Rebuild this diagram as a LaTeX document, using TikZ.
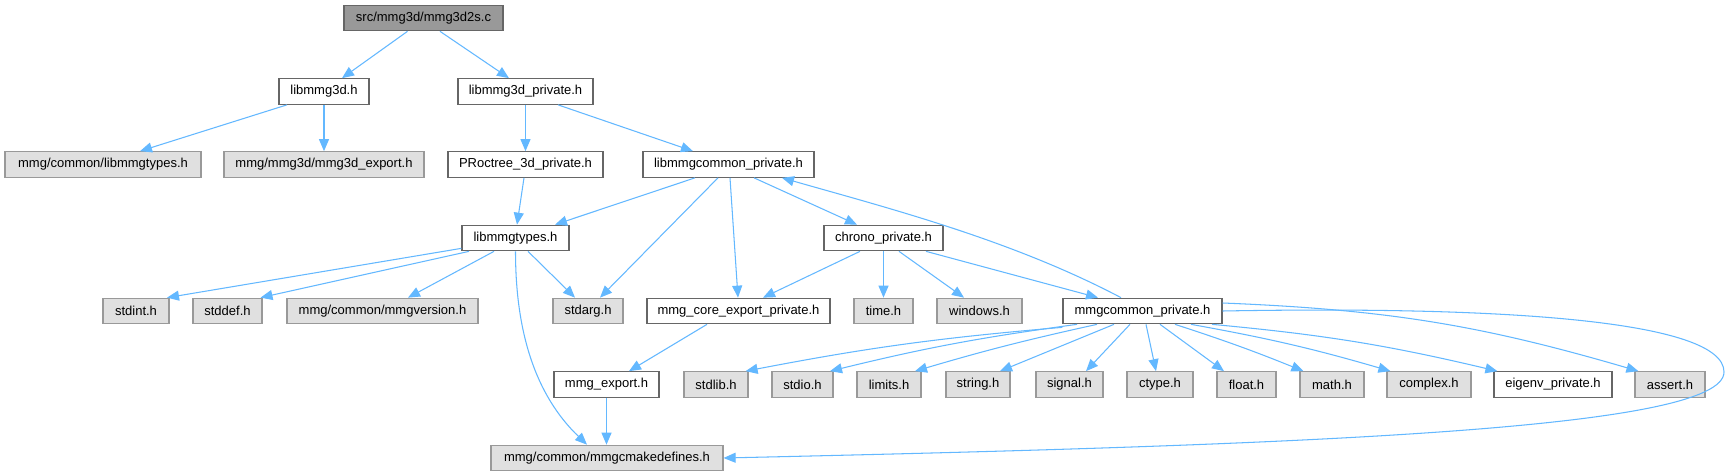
\documentclass[tikz,border=0pt]{standalone}
\usepackage{fontspec}
\setmainfont{Liberation Sans}
\usetikzlibrary{arrows.meta}
\definecolor{edgeblue}{HTML}{63B8FF}
\definecolor{rootfill}{HTML}{999999}
\definecolor{darkborder}{HTML}{666666}
\definecolor{extfill}{HTML}{E0E0E0}
\definecolor{extborder}{HTML}{999999}
\begin{document}
\begin{tikzpicture}[x=1pt,y=-1pt,
  base/.style={line width=1.2pt, minimum height=25.5pt, inner sep=0pt,
    font=\fontsize{13}{15}\selectfont, text=black},
  rootbox/.style={base, draw=darkborder, fill=rootfill, minimum width=#1},
  filebox/.style={base, draw=darkborder, fill=white, minimum width=#1},
  extbox/.style={base, draw=extborder, fill=extfill, minimum width=#1},
  edge/.style={draw=edgeblue, line width=1.05pt, -{Triangle[length=12pt,width=10pt]}}
]
\path[fill=white,use as bounding box] (0,0) rectangle (1731,476);

% rank 0
\node[rootbox=159pt] (root) at (423.5,18) {src/mmg3d/mmg3d2s.c};
% rank 1
\node[filebox=90pt]  (libmmg3d) at (324,91.5) {libmmg3d.h};
\node[filebox=135pt] (private) at (525.5,91.5) {libmmg3d\_private.h};
% rank 2
\node[extbox=196pt]  (commontypes) at (103,164.5) {mmg/common/libmmgtypes.h};
\node[extbox=200pt]  (mmg3dexport) at (324,164.5) {mmg/mmg3d/mmg3d\_export.h};
\node[filebox=155pt] (proctree) at (525.5,164.5) {PRoctree\_3d\_private.h};
\node[filebox=171pt] (libmmgcommon) at (728.5,164.5) {libmmgcommon\_private.h};
% rank 3
\node[filebox=107pt] (libmmgtypes) at (515.5,238) {libmmgtypes.h};
\node[filebox=119pt] (chrono) at (883.5,238) {chrono\_private.h};
% rank 4
\node[extbox=66pt]   (stdint) at (136,311) {stdint.h};
\node[extbox=69pt]   (stddef) at (227.5,311) {stddef.h};
\node[extbox=191pt]  (mmgversion) at (382.5,311) {mmg/common/mmgversion.h};
\node[extbox=70pt]   (stdarg) at (588,311) {stdarg.h};
\node[filebox=183pt] (coreexport) at (738.5,311) {mmg\_core\_export\_private.h};
\node[extbox=59pt]   (time) at (883.5,311) {time.h};
\node[extbox=85pt]   (windows) at (979.5,311) {windows.h};
\node[filebox=159pt] (mmgcommon) at (1142.5,311) {mmgcommon\_private.h};
% rank 5
\node[filebox=105pt] (mmgexport) at (606.5,384.5) {mmg\_export.h};
\node[extbox=64pt]   (stdlib) at (716,384.5) {stdlib.h};
\node[extbox=61pt]   (stdio) at (802.5,384.5) {stdio.h};
\node[extbox=64pt]   (limits) at (889,384.5) {limits.h};
\node[extbox=64pt]   (string) at (978,384.5) {string.h};
\node[extbox=67pt]   (signal) at (1069.5,384.5) {signal.h};
\node[extbox=66pt]   (ctype) at (1160,384.5) {ctype.h};
\node[extbox=59pt]   (float) at (1246.5,384.5) {float.h};
\node[extbox=64pt]   (math) at (1332,384.5) {math.h};
\node[extbox=84pt]   (complex) at (1429,384.5) {complex.h};
\node[filebox=118pt] (eigenv) at (1553,384.5) {eigenv\_private.h};
\node[extbox=70pt]   (assert) at (1670,384.5) {assert.h};
% rank 6
\node[extbox=232pt]  (cmake) at (607,458) {mmg/common/mmgcmakedefines.h};

\coordinate (loopR) at (1724,372);

% edges
\draw[edge] ([xshift=-16pt]root.south) -- ([xshift=18pt]libmmg3d.north);
\draw[edge] ([xshift=16.5pt]root.south) -- ([xshift=-16.5pt]private.north);
\draw[edge] ([xshift=-37pt]libmmg3d.south) -- ([xshift=37pt]commontypes.north);
\draw[edge] (libmmg3d.south) -- (mmg3dexport.north);
\draw[edge] (private.south) -- (proctree.north);
\draw[edge] ([xshift=32.5pt]private.south) -- ([xshift=-35.5pt]libmmgcommon.north);
\draw[edge] ([xshift=-1.5pt]proctree.south) -- ([xshift=1.5pt]libmmgtypes.north);
\draw[edge] ([xshift=-33.5pt]libmmgcommon.south) -- ([xshift=39.5pt]libmmgtypes.north);
\draw[edge] ([xshift=-10.5pt]libmmgcommon.south) -- ([xshift=12pt]stdarg.north);
\draw[edge] ([xshift=1.5pt]libmmgcommon.south) -- ([xshift=-0.5pt]coreexport.north);
\draw[edge] ([xshift=25.5pt]libmmgcommon.south) -- ([xshift=-26.5pt]chrono.north);
\draw[edge] ([xshift=-21.5pt]mmgcommon.north) .. controls +(-110,-58) and +(105,30) .. ([xshift=53.5pt]libmmgcommon.south);

\draw[edge] ([yshift=3pt]libmmgtypes.south west) -- ([xshift=31pt]stdint.north);
\draw[edge] ([xshift=-46.5pt]libmmgtypes.south) -- ([xshift=33pt]stddef.north);
\draw[edge] ([xshift=-21.5pt]libmmgtypes.south) -- ([xshift=25.5pt]mmgversion.north);
\draw[edge] ([xshift=12.5pt]libmmgtypes.south) -- ([xshift=-13pt]stdarg.north);
\draw[edge] (libmmgtypes.south) .. controls +(0,80) and +(-52,-50) .. ([xshift=-20pt]cmake.north);

\draw[edge] ([xshift=-23.5pt]chrono.south) -- ([xshift=24.5pt]coreexport.north);
\draw[edge] (chrono.south) -- (time.north);
\draw[edge] ([xshift=15.5pt]chrono.south) -- ([xshift=-15.5pt]windows.north);
\draw[edge] ([xshift=42.5pt]chrono.south) -- ([xshift=-44.5pt]mmgcommon.north);

\draw[edge] ([xshift=-31.5pt]coreexport.south) -- ([xshift=22.5pt]mmgexport.north);
\draw[edge] (mmgexport.south) -- (cmake.north -| mmgexport.south);

\draw[edge] ([yshift=-3pt]mmgcommon.south west) to[bend right=3] ([xshift=-3pt]stdlib.north east);
\draw[edge] ([xshift=-65.5pt]mmgcommon.south) to[bend right=3] ([xshift=27.5pt]stdio.north);
\draw[edge] ([xshift=-45.5pt]mmgcommon.south) to[bend right=2] ([xshift=26pt]limits.north);
\draw[edge] ([xshift=-28.5pt]mmgcommon.south) -- ([xshift=22pt]string.north);
\draw[edge] ([xshift=-12.5pt]mmgcommon.south) -- ([xshift=16.5pt]signal.north);
\draw[edge] ([xshift=3.5pt]mmgcommon.south) -- ([xshift=-4pt]ctype.north);
\draw[edge] ([xshift=17.5pt]mmgcommon.south) -- ([xshift=-22.5pt]float.north);
\draw[edge] ([xshift=32.5pt]mmgcommon.south) to[bend left=2] ([xshift=4pt]math.north west);
\draw[edge] ([xshift=48.5pt]mmgcommon.south) to[bend left=3] ([xshift=4pt]complex.north west);
\draw[edge] ([xshift=69.5pt]mmgcommon.south) to[bend left=4] ([xshift=4pt]eigenv.north west);
\draw[edge] ([yshift=8pt]mmgcommon.east) to[bend left=7] ([xshift=4pt]assert.north west);
\draw[edge] (mmgcommon.east) .. controls (1500,306) and (1724,320) .. (loopR)
  .. controls (1724,430) and (1300,445) .. (cmake.east);
\end{tikzpicture}
\end{document}
